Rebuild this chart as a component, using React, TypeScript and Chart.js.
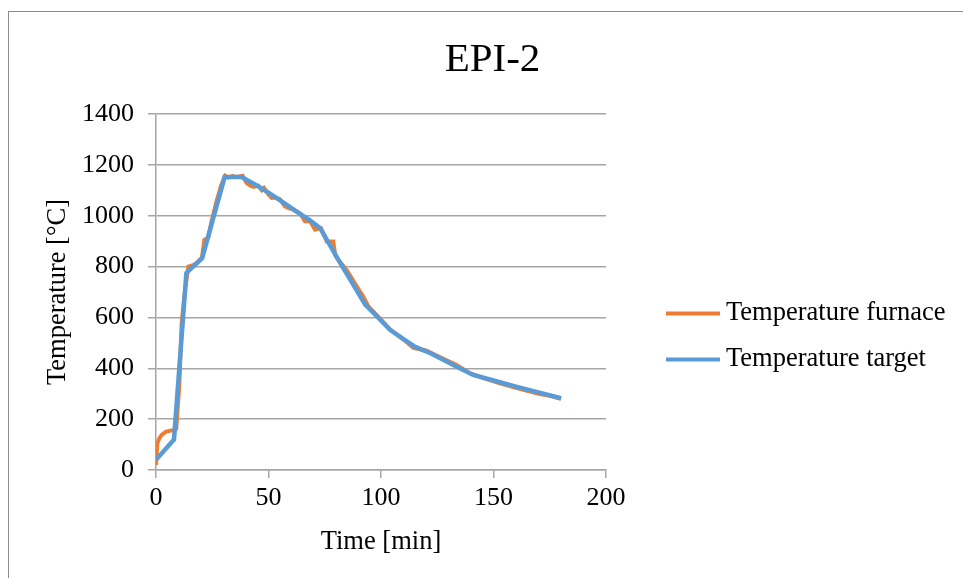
import React, { useEffect, useRef } from 'react';
import { Chart, registerables } from 'chart.js';

Chart.register(...registerables);

const chartTitle = 'EPI-2';
const xAxisTitle = 'Time [min]';
const yAxisTitle = 'Temperature [°C]';

const xTicks = [0, 50, 100, 150, 200];
const yTicks = [0, 200, 400, 600, 800, 1000, 1200, 1400];

const furnaceLabel = 'Temperature furnace';
const furnaceTime = [
  0, 0.6, 1.5, 2.5, 4.5, 7.5, 9, 10.4, 11.4, 12.9, 14.4, 16.5, 18.8, 20.4, 21.5, 23.3, 24.7, 27, 29,
  30.7, 32, 34, 36, 38.5, 40.3, 42, 43.3, 45.5, 47, 48, 50, 51.4, 53, 55, 57.3, 59, 61, 64, 66.2,
  68.5, 70.7, 73.3, 75.9, 78.8, 79.6, 81, 84.7, 89.2, 92.1, 94.4, 99, 104, 110, 114.4, 120, 127,
  133.6, 139.6, 146, 152.9, 158, 163.3, 170, 175, 180,
];
const furnaceTemp = [
  20, 105, 125, 138, 151, 157, 162, 341, 578, 709, 800, 805, 820, 835, 905, 915, 978, 1060, 1120,
  1157, 1150, 1156, 1152, 1157, 1128, 1118, 1113, 1118, 1100, 1109, 1083, 1070, 1072, 1065, 1037,
  1030, 1024, 1010, 978, 978, 945, 951, 899, 899, 846, 827, 787, 722, 682, 643, 600, 553, 513, 480,
  470, 440, 413, 380, 360, 341, 328, 315, 300, 292, 280,
];

const targetLabel = 'Temperature target';
const targetTime = [
  0, 8, 13.5, 20.5, 30.5, 38, 45, 51, 57, 63, 68, 73, 81, 93, 99, 104, 110, 115, 122, 135, 141,
  150, 160, 170, 180,
];
const targetTemp = [
  40, 120, 775, 833, 1152, 1152, 1118, 1085, 1050, 1013, 985, 951, 827, 650, 597, 551, 515, 485,
  459, 400, 374, 352, 328, 305, 282,
];

const FONT = "'Liberation Serif', 'Times New Roman', serif";
const GRID = '#a6a6a6';

const frameBorder = {
  id: 'frameBorder',
  beforeDraw(chart: any) {
    const ctx = chart.ctx;
    ctx.save();
    ctx.fillStyle = '#ffffff';
    ctx.fillRect(0, 0, chart.width, chart.height);
    ctx.strokeStyle = '#8c8c8c';
    ctx.lineWidth = 1;
    ctx.strokeRect(8.5, 11.5, chart.width + 20, chart.height + 20);
    ctx.restore();
  },
};

const sideLegend = {
  id: 'sideLegend',
  afterDraw(chart: any) {
    const ctx = chart.ctx;
    ctx.save();
    chart.data.datasets.forEach((ds: any, i: number) => {
      const y = 313.5 + i * 46;
      ctx.strokeStyle = ds.borderColor;
      ctx.lineWidth = 4;
      ctx.lineCap = 'butt';
      ctx.beginPath();
      ctx.moveTo(666, y);
      ctx.lineTo(720, y);
      ctx.stroke();
      ctx.fillStyle = '#000000';
      ctx.font = `26.5px ${FONT}`;
      ctx.textAlign = 'left';
      ctx.textBaseline = 'middle';
      ctx.fillText(ds.label, 726, y);
    });
    ctx.restore();
  },
};

const plainNumber = (v: any) => String(v);

export default function App() {
  const canvasRef = useRef<HTMLCanvasElement | null>(null);

  useEffect(() => {
    if (!canvasRef.current) return;
    const furnaceData = furnaceTime.map((t, i) => ({ x: t, y: furnaceTemp[i] }));
    const targetData = targetTime.map((t, i) => ({ x: t, y: targetTemp[i] }));
    const chart = new Chart(canvasRef.current, {
      type: 'line',
      data: {
        datasets: [
          {
            label: furnaceLabel,
            data: furnaceData,
            borderColor: '#ED7D31',
            backgroundColor: '#ED7D31',
            borderWidth: 4,
            pointRadius: 0,
            tension: 0,
            order: 1,
          },
          {
            label: targetLabel,
            data: targetData,
            borderColor: '#5B9BD5',
            backgroundColor: '#5B9BD5',
            borderWidth: 4.5,
            pointRadius: 0,
            tension: 0,
            order: 0,
          },
        ],
      },
      options: {
        animation: false,
        responsive: false,
        devicePixelRatio: 1,
        layout: { padding: { left: 22, top: 0, right: 0, bottom: 0 } },
        plugins: {
          legend: { display: false },
          tooltip: { enabled: false },
          title: {
            display: true,
            text: chartTitle,
            color: '#000000',
            font: { family: FONT, size: 41, weight: 'normal' },
            padding: { top: 36, bottom: 28.8 },
          },
        },
        scales: {
          x: {
            type: 'linear',
            min: xTicks[0],
            max: xTicks[xTicks.length - 1],
            afterFit: (s: any) => {
              s.height = 108;
            },
            ticks: {
              stepSize: xTicks[1] - xTicks[0],
              color: '#000000',
              font: { family: FONT, size: 26 },
              padding: 5,
              maxRotation: 0,
              callback: plainNumber,
            },
            grid: {
              drawOnChartArea: false,
              drawTicks: true,
              tickLength: 8,
              color: GRID,
              lineWidth: 1.5,
            },
            border: { display: true, color: GRID, width: 1.5 },
            title: {
              display: true,
              text: xAxisTitle,
              color: '#000000',
              font: { family: FONT, size: 26.5, weight: 'normal' },
              padding: { top: 0, bottom: 20 },
            },
          },
          y: {
            type: 'linear',
            position: 'left',
            min: yTicks[0],
            max: yTicks[yTicks.length - 1],
            afterFit: (s: any) => {
              s.width = 134;
            },
            ticks: {
              stepSize: yTicks[1] - yTicks[0],
              color: '#000000',
              font: { family: FONT, size: 26 },
              padding: 14,
              callback: plainNumber,
            },
            grid: {
              drawOnChartArea: true,
              drawTicks: true,
              tickLength: 8,
              color: GRID,
              lineWidth: 1.5,
            },
            border: { display: true, color: GRID, width: 1.5 },
            title: {
              display: true,
              text: yAxisTitle,
              color: '#000000',
              font: { family: FONT, size: 26.5, weight: 'normal' },
              padding: { top: 20, bottom: 0 },
            },
          },
          legendSpace: {
            type: 'linear',
            position: 'right',
            display: true,
            afterFit: (s: any) => {
              s.width = 357;
            },
            ticks: { display: false },
            grid: { display: false, drawTicks: false },
            border: { display: false },
            title: { display: false },
          },
        },
      },
      plugins: [frameBorder, sideLegend],
    });
    return () => chart.destroy();
  }, []);

  return (
    <div style={{ position: 'absolute', left: 0, top: 0, width: 963, height: 578 }}>
      <canvas ref={canvasRef} width={963} height={578} style={{ width: 963, height: 578 }} />
    </div>
  );
}
